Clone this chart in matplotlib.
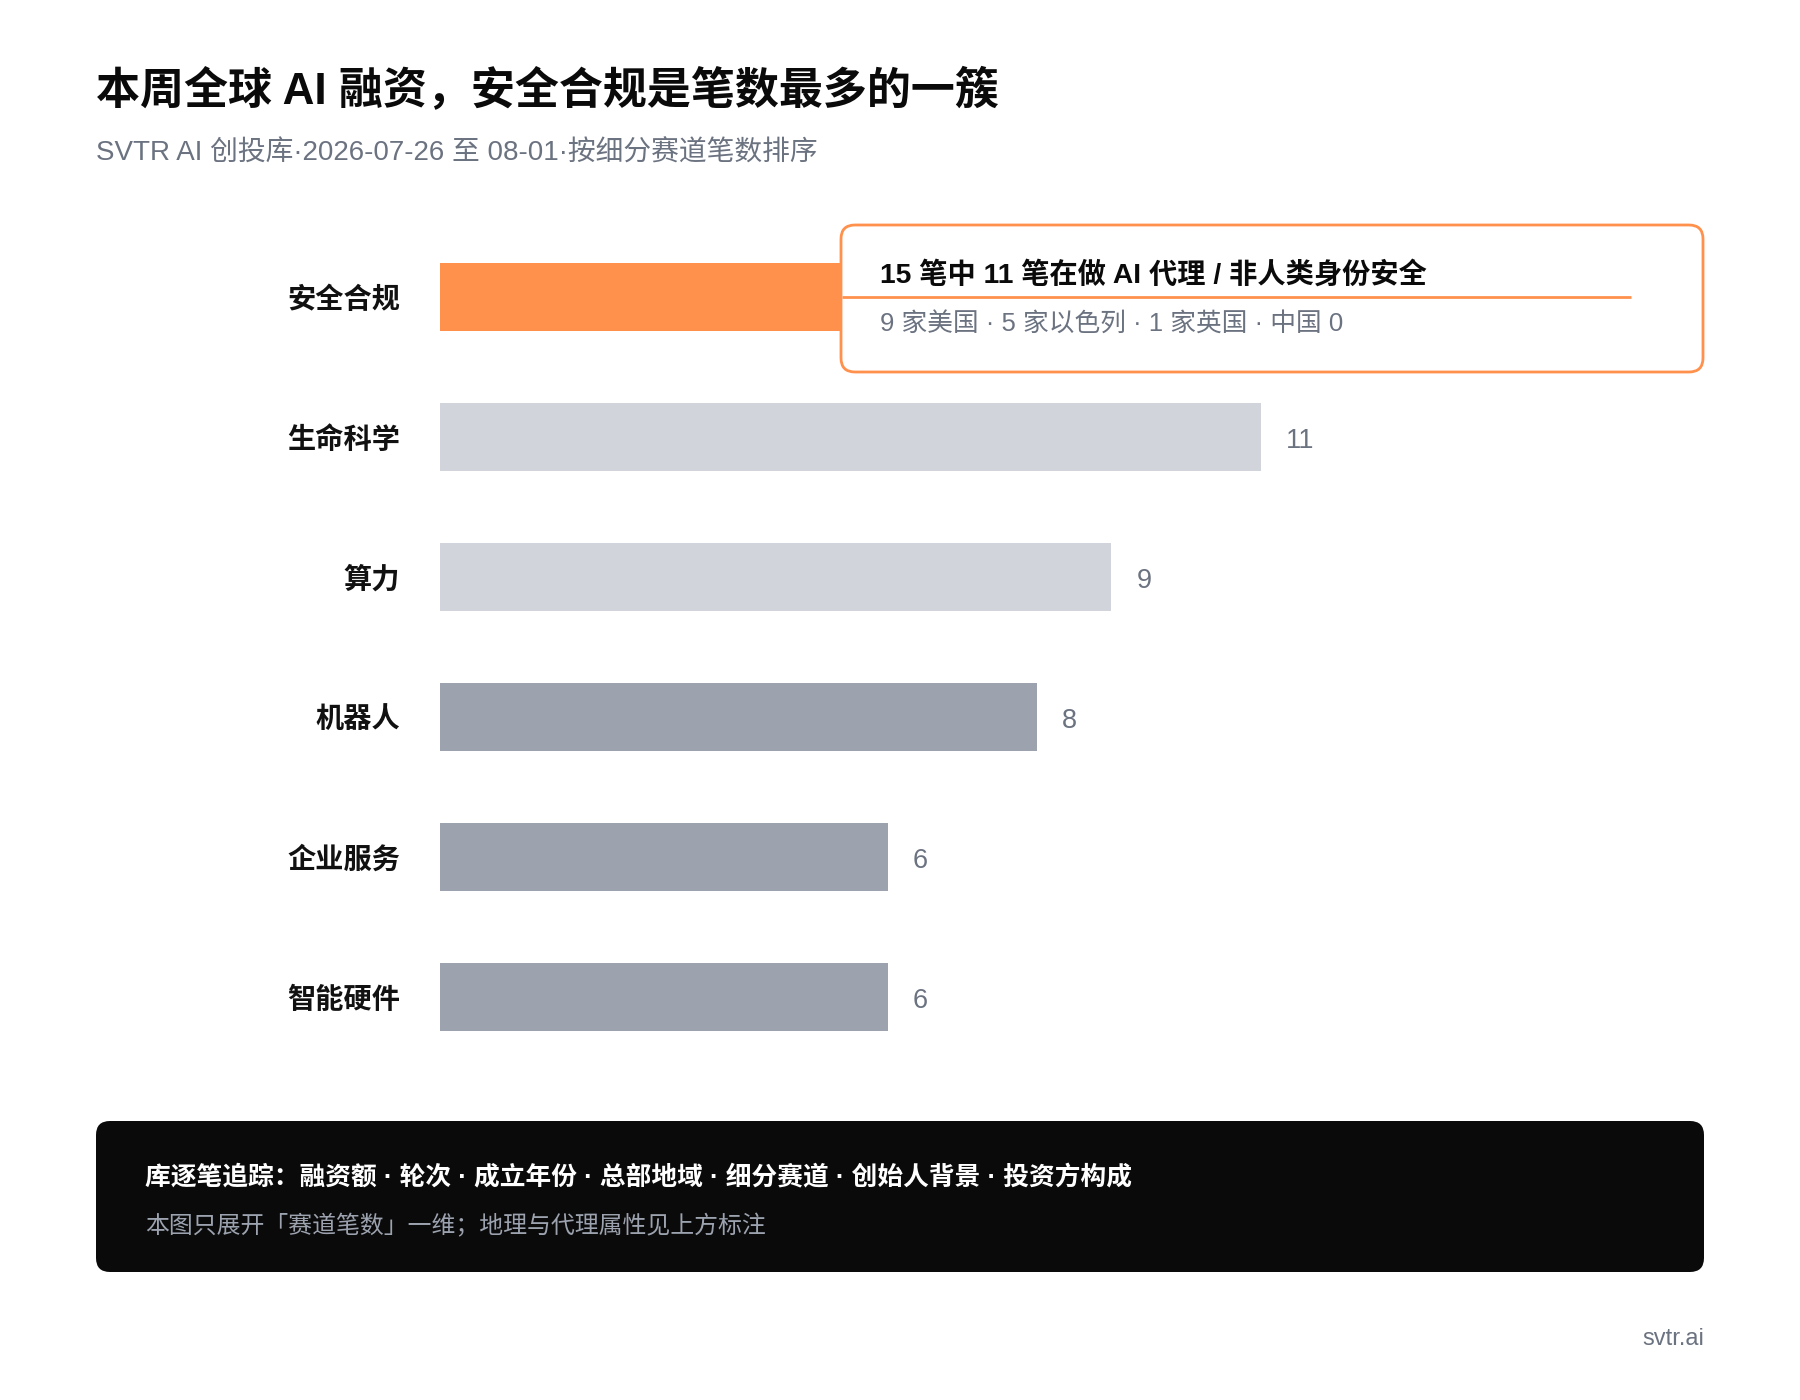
import matplotlib
matplotlib.use("Agg")
import matplotlib.pyplot as plt
from matplotlib.patches import FancyBboxPatch

# Latin glyphs from Liberation Sans, CJK falls back to Noto
plt.rcParams['font.family'] = ['Liberation Sans', 'Noto Sans CJK SC']

# data
categories = ['安全合规', '生命科学', '算力', '机器人', '企业服务', '智能硬件']
counts = [15, 11, 9, 8, 6, 6]
bar_colors = ['#FF914D', '#D1D5DB', '#D1D5DB', '#9CA3AF', '#9CA3AF', '#9CA3AF']

title = '本周全球 AI 融资，安全合规是笔数最多的一簇'
subtitle = 'SVTR AI 创投库·2026-07-26 至 08-01·按细分赛道笔数排序'
note_head = '15 笔中 11 笔在做 AI 代理 / 非人类身份安全'
note_sub = '9 家美国 · 5 家以色列 · 1 家英国 · 中国 0'
foot_head = '库逐笔追踪：融资额 · 轮次 · 成立年份 · 总部地域 · 细分赛道 · 创始人背景 · 投资方构成'
foot_sub = '本图只展开「赛道笔数」一维；地理与代理属性见上方标注'
source = 'svtr.ai'

W, H = 1800, 1400
fig = plt.figure(figsize=(18, 14), dpi=100)
fig.patch.set_facecolor('white')

# bar axes: x=0 at 440px, 74.6px per unit; rows 140px apart starting at 227px
ax = fig.add_axes([440 / W, 1 - 1067 / H, 17 * 74.6 / W, 840 / H])
ax.barh(range(len(categories)), counts, height=0.486, color=bar_colors)
ax.set_xlim(0, 17)
ax.set_ylim(len(categories) - 0.5, -0.5)
ax.set_yticks(range(len(categories)))
ax.set_yticklabels(categories, fontsize=20.3, fontweight='bold', color='#111111')
ax.tick_params(axis='y', length=0, pad=28.5)
ax.set_xticks([])
for s in ax.spines.values():
    s.set_visible(False)
for i, v in enumerate(counts):
    ax.annotate(str(v), (v, i), xytext=(18, -3), textcoords='offset points',
                va='center', ha='left', fontsize=19.5, color='#6B7280')

# overlay in pixel coords
ov = fig.add_axes([0, 0, 1, 1], zorder=5)
ov.set_xlim(0, W)
ov.set_ylim(H, 0)
ov.axis('off')
ov.patch.set_alpha(0)

ov.text(96, 90, title, fontsize=31.7, fontweight='heavy', color='#0A0A0A', va='center', ha='left')
ov.text(96, 153, subtitle, fontsize=20, color='#6B7280', va='center', ha='left')

# annotation box over the leading bar
ov.add_patch(FancyBboxPatch((841, 225), 862, 147, boxstyle='round,pad=0,rounding_size=14',
                            facecolor='white', edgecolor='#FF914D', linewidth=2))
ov.plot([842, 1631], [297, 297], color='#FF914D', linewidth=2, solid_capstyle='butt')
ov.text(880, 275, note_head, fontsize=20.3, fontweight='bold', color='#0A0A0A', va='center', ha='left')
ov.text(880, 324, note_sub, fontsize=18.5, color='#6B7280', va='center', ha='left')

# footer panel
ov.add_patch(FancyBboxPatch((96, 1121), 1608, 151, boxstyle='round,pad=0,rounding_size=14',
                            facecolor='#0A0A0A', edgecolor='none'))
ov.text(145, 1178, foot_head, fontsize=18.5, fontweight='bold', color='white', va='center', ha='left')
ov.text(145, 1226, foot_sub, fontsize=17.2, color='#9CA3AF', va='center', ha='left')

ov.text(1704, 1339, source, fontsize=17, color='#6B7280', va='center', ha='right')

fig.savefig('out.png', dpi=100)
